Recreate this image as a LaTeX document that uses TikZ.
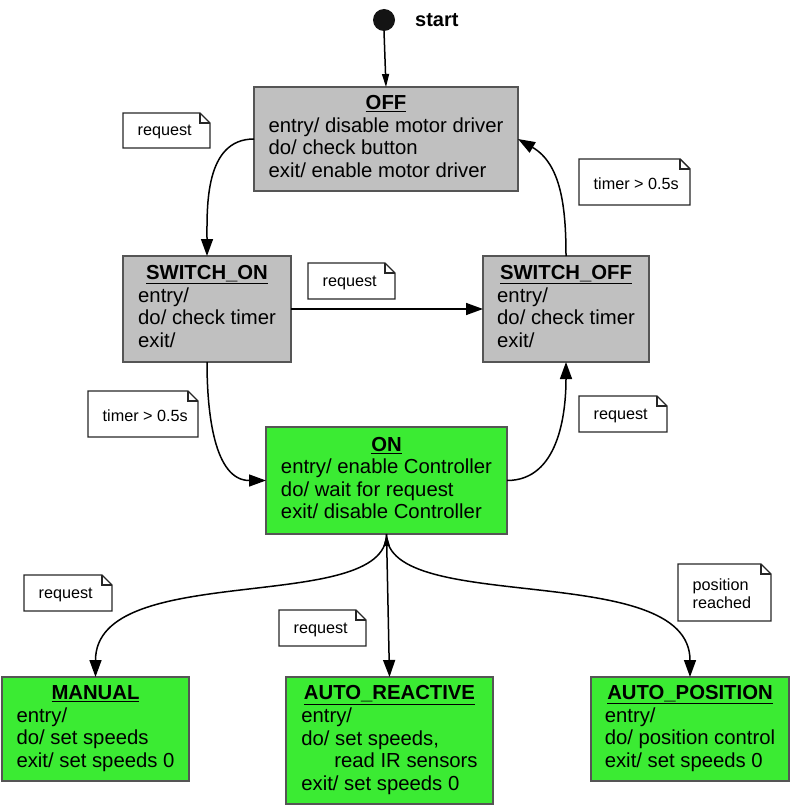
\documentclass[tikz,border=0pt]{standalone}
\usepackage{fontspec}
\setmainfont{Liberation Sans}
\usetikzlibrary{arrows.meta,calc}
\definecolor{stgray}{HTML}{C0C0C0}
\definecolor{stgreen}{HTML}{3BEB33}
\definecolor{stborder}{HTML}{555555}
\tikzset{
  statebox/.style={draw=stborder, line width=1.6pt, rectangle, inner sep=0pt, outer sep=0pt,
    font=\fontsize{20.3}{22.6}\selectfont},
  offstate/.style={statebox, fill=stgray},
  onstate/.style={statebox, fill=stgreen},
  trans/.style={line width=1.5pt, -{Triangle[length=17pt,width=12pt]}},
  smalltrans/.style={line width=1.5pt, -{Triangle[length=13pt,width=7pt]}},
  noteframe/.style={rectangle, inner sep=0pt, outer sep=0pt},
  notetext/.style={font=\fontsize{16.2}{18}\selectfont, inner sep=0pt, anchor=west, align=left},
  noteline/.style={draw=black!85, line width=1.4pt, line join=miter}
}
\newcommand{\mknote}[6]{%
  \node[noteframe, minimum width={#4-#2}, minimum height={#5-#3}] (#1) at ({(#2+#4)/2},{-(#3+#5)/2}) {};
  \node[notetext] (#1t) at ([xshift=14.5pt,yshift=-1.5pt]#1.west) {#6};
  \draw[noteline] (#1.north west) -- ([xshift=-10pt]#1.north east) -- ([yshift=-10pt]#1.north east)
     -- (#1.south east) -- (#1.south west) -- cycle;
  \draw[noteline] ([xshift=-10pt]#1.north east) |- ([yshift=-10pt]#1.north east);
}
\newcommand{\sttitle}[1]{\multicolumn{1}{@{}c@{}}{\textbf{\underline{#1}}}}
\begin{document}
\begin{tikzpicture}[x=1pt,y=1pt]
\useasboundingbox (0,0) rectangle (790,-805);

% start
\node[circle, fill=black!92, minimum size=22pt, inner sep=0pt] (start) at (384,-20) {};
\node[font=\bfseries\fontsize{20}{24}\selectfont, inner sep=0pt, anchor=west] (startlbl) at (415,-20) {start};

% states
\node[offstate, minimum width=264, minimum height=104] (OFF) at (386,-139)
  {\begin{tabular}{@{}l@{}}\sttitle{OFF}\\ entry/ disable motor driver\\ do/ check button\\ exit/ enable motor driver\end{tabular}};
\node[offstate, minimum width=168, minimum height=106] (SON) at (207,-309)
  {\begin{tabular}{@{}l@{}}\sttitle{SWITCH\_ON}\\ entry/\\ do/ check timer\\ exit/\end{tabular}};
\node[offstate, minimum width=166, minimum height=106] (SOFF) at (566,-309)
  {\begin{tabular}{@{}l@{}}\sttitle{SWITCH\_OFF}\\ entry/\\ do/ check timer\\ exit/\end{tabular}};
\node[onstate, minimum width=241, minimum height=107] (ON) at (386.5,-480.5)
  {\begin{tabular}{@{}l@{}}\sttitle{ON}\\ entry/ enable Controller\\ do/ wait for request\\ exit/ disable Controller\end{tabular}};
\node[onstate, minimum width=187, minimum height=104] (MAN) at (95.5,-729)
  {\begin{tabular}{@{}l@{}}\sttitle{MANUAL}\\ entry/\\ do/ set speeds\\ exit/ set speeds 0\end{tabular}};
\node[onstate, minimum width=207, minimum height=127] (AR) at (389.5,-740.5)
  {\begin{tabular}{@{}l@{}}\sttitle{AUTO\_REACTIVE}\\ entry/\\ do/ set speeds,\\ \hspace*{33pt}read IR sensors\\ exit/ set speeds 0\end{tabular}};
\node[onstate, minimum width=198, minimum height=104] (AP) at (690,-729)
  {\begin{tabular}{@{}l@{}}\sttitle{AUTO\_POSITION}\\ entry/\\ do/ position control\\ exit/ set speeds 0\end{tabular}};

% notes
\mknote{n1}{123}{113}{210}{148}{request}
\mknote{n2}{579}{159}{690}{205}{timer > 0.5s}
\mknote{n3}{308}{263}{395}{299}{request}
\mknote{n4}{88}{391}{198}{437}{timer > 0.5s}
\mknote{n5}{579}{396}{667}{432}{request}
\mknote{n6}{24}{575}{112}{611}{request}
\mknote{n7}{279}{610}{366}{646}{request}
\mknote{n8}{678}{564}{771}{621}{position\\reached}

% transitions
\draw[smalltrans] (start.south) -- (OFF.north);
\draw[trans] (OFF.west) to[out=180,in=90] (SON.north);
\draw[trans] (SON.east) -- (SOFF.west);
\draw[trans] (SON.south) to[out=-90,in=180] (ON.west);
\draw[trans] (ON.east) to[out=0,in=-90] (SOFF.south);
\draw[trans] (SOFF.north) to[out=90,in=-30] (OFF.east);
\draw[trans] (ON.south) .. controls +(0,-82) and +(0,118) .. (MAN.north);
\draw[trans] (ON.south) .. controls +(0,-82) and +(0,118) .. (AP.north);
\draw[line width=1.5pt, {Triangle[length=12pt,width=6pt]}-{Triangle[length=17pt,width=12pt]}] (ON.south) -- (AR.north);
\end{tikzpicture}
\end{document}
